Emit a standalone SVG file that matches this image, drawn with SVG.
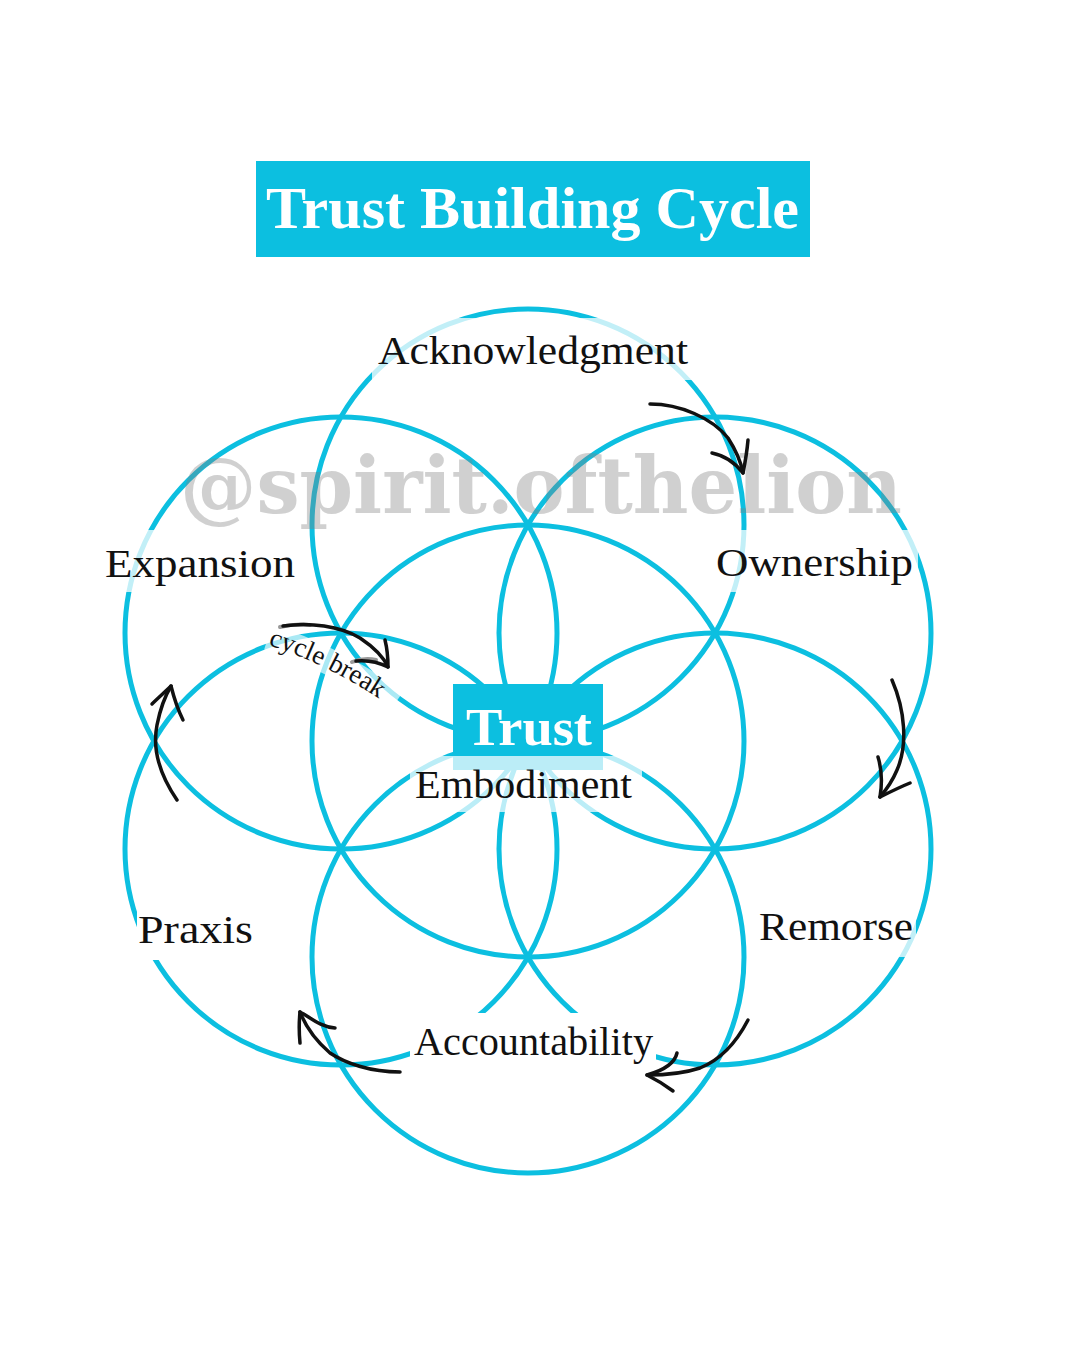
<svg xmlns="http://www.w3.org/2000/svg" width="1080" height="1350" viewBox="0 0 1080 1350">
<style>
.c{fill:none;stroke:#0cbfe0;stroke-width:5}
.lbl{font-family:"Liberation Serif","DejaVu Serif",serif;font-size:40px;fill:#111}
.arr{fill:none;stroke:#111;stroke-width:3.5;stroke-linecap:round;stroke-linejoin:round}
.bg{fill:#fff;opacity:0.75}
.bgs{fill:#fff}
</style>
<rect width="1080" height="1350" fill="#fff"/>
<g id="title">
<rect x="256" y="161" width="554" height="96" fill="#0cbfe0"/>
<text x="266" y="228" font-family="Liberation Serif,serif" font-weight="bold" font-size="60" fill="#fff" textLength="533" lengthAdjust="spacingAndGlyphs">Trust Building Cycle</text>
</g>
<g id="circles">
<circle id="c-center" class="c" cx="528" cy="741" r="216"/>
<circle id="c-top" class="c" cx="528" cy="525" r="216"/>
<circle id="c-bottom" class="c" cx="528" cy="957" r="216"/>
<circle id="c-ur" class="c" cx="715" cy="633" r="216"/>
<circle id="c-lr" class="c" cx="715" cy="849" r="216"/>
<circle id="c-ul" class="c" cx="341" cy="633" r="216"/>
<circle id="c-ll" class="c" cx="341" cy="849" r="216"/>
</g>
<text id="watermark" x="180" y="513" font-family="DejaVu Serif,serif" font-weight="bold" font-size="78" fill="#808080" opacity="0.36" textLength="722" lengthAdjust="spacingAndGlyphs">@spirit.ofthelion</text>
<g id="node-acknowledgment">
<rect class="bg" x="372" y="318" width="323" height="62"/>
<text class="lbl" x="378" y="364" textLength="310" lengthAdjust="spacingAndGlyphs">Acknowledgment</text>
</g>
<g id="node-ownership">
<rect class="bg" x="712" y="530" width="206" height="62"/>
<text class="lbl" x="716" y="576" textLength="197" lengthAdjust="spacingAndGlyphs">Ownership</text>
</g>
<g id="node-remorse">
<rect class="bg" x="752" y="900" width="164" height="57"/>
<text class="lbl" x="759" y="940" textLength="154" lengthAdjust="spacingAndGlyphs">Remorse</text>
</g>
<g id="node-accountability">
<rect class="bgs" x="410" y="1013" width="246" height="49"/>
<text class="lbl" x="414" y="1055" textLength="239" lengthAdjust="spacingAndGlyphs">Accountability</text>
</g>
<g id="node-praxis">
<rect class="bgs" x="137" y="905" width="123" height="55"/>
<text class="lbl" x="138" y="943" textLength="115" lengthAdjust="spacingAndGlyphs">Praxis</text>
</g>
<g id="node-expansion">
<rect class="bg" x="100" y="530" width="200" height="62"/>
<text class="lbl" x="105" y="577" textLength="190" lengthAdjust="spacingAndGlyphs">Expansion</text>
</g>
<g id="node-trust">
<rect x="453" y="684" width="150" height="86" fill="#0cbfe0"/>
<rect x="410" y="756" width="232" height="56" fill="#fff" opacity="0.72"/>
<text x="466" y="745" font-family="Liberation Serif,serif" font-weight="bold" font-size="53" fill="#fff" textLength="126" lengthAdjust="spacingAndGlyphs">Trust</text>
<text class="lbl" x="415" y="798" textLength="217" lengthAdjust="spacingAndGlyphs">Embodiment</text>
</g>
<g id="cycle-break">
<defs><path id="cbpath" d="M 268 645 Q 330 664 396 710"/></defs>
<path d="M 268 637 Q 330 656 396 702" fill="none" stroke="#fff" stroke-width="26" opacity="0.65"/>
<text font-family="Liberation Serif,serif" font-size="27" fill="#111"><textPath href="#cbpath">cycle break</textPath></text>
</g>
<g id="connectors">
<path class="arr" d="M 650 404 C 680 404 712 418 728 438 C 737 452 741 462 743 473"/>
<path class="arr" d="M 748 440 C 747 452 745 463 743 473 C 733 460 722 455 712 453"/>
<path class="arr" d="M 892 680 C 905 710 908 745 897 770 C 892 782 886 790 880 797"/>
<path class="arr" d="M 878 757 C 882 770 882 785 880 797 C 890 792 900 787 910 783"/>
<path class="arr" d="M 748 1020 C 735 1045 720 1060 700 1068 C 685 1073 665 1075 647 1075"/>
<path class="arr" d="M 677 1053 C 675 1062 665 1070 647 1075 C 657 1080 665 1085 673 1091"/>
<path class="arr" d="M 400 1072 C 370 1072 345 1063 330 1053 C 315 1040 305 1025 300 1012"/>
<path class="arr" d="M 300 1043 C 299 1033 299 1022 300 1012 C 310 1017 320 1027 335 1028"/>
<path class="arr" d="M 177 800 C 160 775 152 750 157 725 C 160 710 165 696 171 686"/>
<path class="arr" d="M 152 704 C 158 698 165 692 171 686 C 174 698 178 710 183 720"/>
<path d="M 280 627 C 292 624 300 624 310 625" fill="none" stroke="#999" stroke-width="4" stroke-linecap="round"/>
<path d="M 352 662 C 360 659 368 658 376 660" fill="none" stroke="#999" stroke-width="4" stroke-linecap="round"/>
<path class="arr" d="M 283 626 C 310 622 340 626 360 638 C 375 648 384 658 388 667"/>
<path class="arr" d="M 385 640 C 387 648 388 658 388 667 C 378 662 366 660 356 661"/>
</g>
</svg>
